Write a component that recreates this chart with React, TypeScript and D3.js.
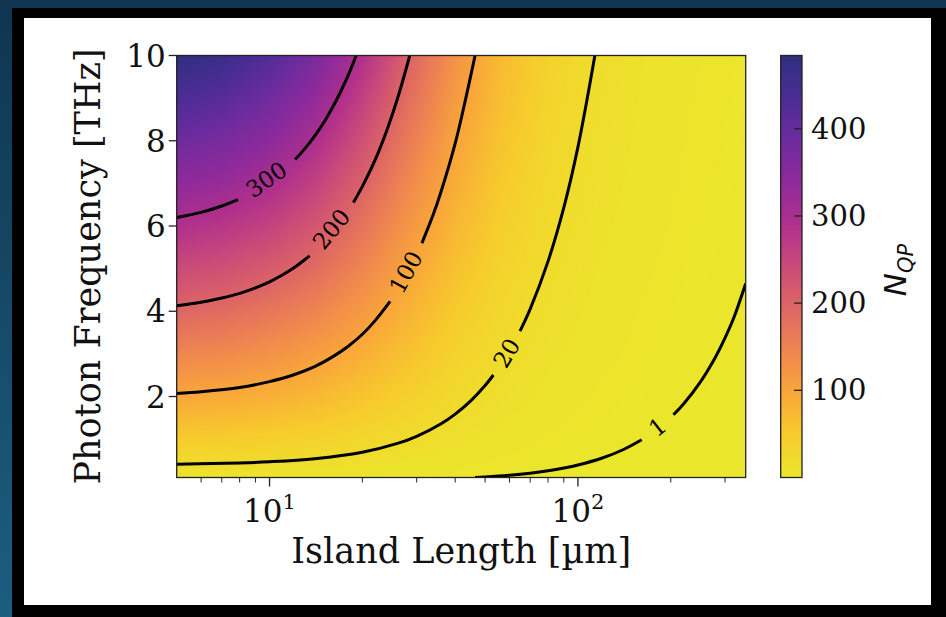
import React, { useMemo } from "react";
import * as d3 from "d3";

// ---------- data ----------
const lengthsUm = [5, 7, 10, 14, 20, 28, 40, 56, 80, 113, 160, 226, 350];
const freqsTHz = [0.1, 2, 4, 6, 8, 10];
const nqpAtF01 = [4.8, 4.6, 4.3, 3.7, 2.9, 2.0, 1.3, 0.73, 0.39, 0.2, 0.1, 0.05, 0.02];
const nqpAtF2 = [97, 93, 85, 74, 58, 41, 25, 14.6, 7.7, 4.0, 2.1, 1.0, 0.44];
const nqpAtF4 = [194, 186, 170, 148, 116, 82, 50, 29, 15.5, 8.1, 4.1, 2.1, 0.87];
const nqpAtF6 = [290, 278, 256, 222, 173, 122, 76, 44, 23, 12.1, 6.2, 3.1, 1.3];
const nqpAtF8 = [387, 371, 341, 296, 231, 163, 101, 59, 31, 16.2, 8.2, 4.2, 1.74];
const nqpAtF10 = [484, 464, 426, 370, 289, 204, 126, 73, 39, 20, 10.3, 5.2, 2.2];
const nqpGrid = [nqpAtF01, nqpAtF2, nqpAtF4, nqpAtF6, nqpAtF8, nqpAtF10];

// contour lines [length µm, frequency THz], split at the label gap
const contour300a = [[5, 6.2], [6, 6.32], [7, 6.47], [7.9, 6.62]];
const contour300b = [[12.1, 7.56], [13, 7.81], [14, 8.11], [15, 8.43], [16, 8.78], [17, 9.15], [18, 9.54], [19.1, 10]];
const contour200a = [[5, 4.13], [6, 4.21], [7, 4.31], [8, 4.42], [9, 4.55], [10, 4.69], [11, 4.85], [12, 5.02], [13, 5.21], [13.5, 5.3]];
const contour200b = [[18.7, 6.55], [20, 6.93], [22, 7.55], [24, 8.24], [26, 8.99], [28.5, 10]];
const contour100a = [[5, 2.07], [6, 2.11], [8, 2.21], [10, 2.35], [12, 2.51], [14, 2.7], [16, 2.93], [18, 3.18], [20, 3.46], [22, 3.78], [24.6, 4.23]];
const contour100b = [[31.2, 5.6], [34, 6.28], [36, 6.81], [40, 7.94], [43, 8.9], [46.4, 10]];
const contour20a = [[5, 0.413], [8, 0.442], [10, 0.469], [14, 0.541], [20, 0.693], [26, 0.899], [30, 1.066], [36, 1.361], [40, 1.588], [45, 1.905], [50, 2.259], [53.2, 2.505]];
const contour20b = [[64.9, 3.535], [70, 4.05], [80, 5.17], [90, 6.43], [100, 7.85], [113.5, 10]];
const contour1a = [[46.4, 0.1], [50, 0.113], [60, 0.154], [70, 0.202], [80, 0.258], [90, 0.322], [100, 0.393], [120, 0.557], [140, 0.751], [161, 0.986]];
const contour1b = [[204, 1.571], [220, 1.824], [250, 2.35], [280, 2.94], [300, 3.375], [320, 3.84], [350, 4.65]];
const contourLevels = [300, 200, 100, 20, 1];

const xMajorTicks = [10, 100];
const xMinorTicks = [6, 7, 8, 9, 20, 30, 40, 50, 60, 70, 80, 90, 200, 300];
const yTicks = [2, 4, 6, 8, 10];
const cbarTicks = [100, 200, 300, 400];
const cbarMin = 0;
const cbarMax = 484;

// colour ramp (plasma, reversed, as it appears in the reference)
const rampColors = ["#ebe72c", "#f7cc2c", "#f9a73a", "#ef8650", "#de6764", "#ca4b79", "#b0308d", "#8e2a9b", "#6d2b9e", "#4c2c94", "#2d2f80"];

// ---------- layout ----------
const W = 946;
const H = 617;
const PL = 176.7, PR = 745.7, PT = 55.5, PB = 477.5;
const CBL = 780.7, CBR = 802;
const SERIF = "'DejaVu Serif', serif";
const SANS = "'DejaVu Sans', sans-serif";

const xScale = d3.scaleLog().domain([5, 350]).range([PL, PR]);
const yScale = d3.scaleLinear().domain([0.1, 10]).range([PB, PT]);
const cScale = d3.scaleLinear().domain([cbarMin, cbarMax]).range([PB, PT]);
const ramp = d3.piecewise(d3.interpolateRgb, rampColors);
const colorOf = (v: number) => ramp(Math.max(0, Math.min(1, (v - cbarMin) / (cbarMax - cbarMin))));

function sampleGrid(L: number, f: number): number {
  const logs = lengthsUm.map((d) => Math.log10(d));
  const lx = Math.log10(L);
  let i = d3.bisectRight(logs, lx) - 1;
  i = Math.max(0, Math.min(logs.length - 2, i));
  let j = d3.bisectRight(freqsTHz, f) - 1;
  j = Math.max(0, Math.min(freqsTHz.length - 2, j));
  const tx = Math.max(0, Math.min(1, (lx - logs[i]) / (logs[i + 1] - logs[i])));
  const ty = Math.max(0, Math.min(1, (f - freqsTHz[j]) / (freqsTHz[j + 1] - freqsTHz[j])));
  const a = nqpGrid[j][i], b = nqpGrid[j][i + 1];
  const c = nqpGrid[j + 1][i], d = nqpGrid[j + 1][i + 1];
  return (a * (1 - tx) + b * tx) * (1 - ty) + (c * (1 - tx) + d * tx) * ty;
}

function useHeatmapUrl(): string {
  return useMemo(() => {
    const w = Math.round(PR - PL);
    const h = Math.round(PB - PT);
    const canvas = document.createElement("canvas");
    canvas.width = w;
    canvas.height = h;
    const ctx = canvas.getContext("2d");
    if (!ctx) return "";
    const img = ctx.createImageData(w, h);
    for (let py = 0; py < h; py++) {
      const f = yScale.invert(PT + ((py + 0.5) / h) * (PB - PT));
      for (let px = 0; px < w; px++) {
        const L = xScale.invert(PL + ((px + 0.5) / w) * (PR - PL));
        const col = d3.rgb(colorOf(sampleGrid(L, f)));
        const k = (py * w + px) * 4;
        img.data[k] = col.r;
        img.data[k + 1] = col.g;
        img.data[k + 2] = col.b;
        img.data[k + 3] = 255;
      }
    }
    ctx.putImageData(img, 0, 0);
    return canvas.toDataURL();
  }, []);
}

const lineGen = d3
  .line<number[]>()
  .x((d) => xScale(d[0]))
  .y((d) => yScale(d[1]))
  .curve(d3.curveCatmullRom.alpha(0.5));

const contourParts: Record<number, number[][][]> = {
  300: [contour300a, contour300b],
  200: [contour200a, contour200b],
  100: [contour100a, contour100b],
  20: [contour20a, contour20b],
  1: [contour1a, contour1b],
};

export default function App() {
  const url = useHeatmapUrl();
  const gradStops = d3.range(0, 1.0001, 0.025);

  return (
    <div>
      <style>{`body{margin:0;}`}</style>
      <svg width={W} height={H} style={{ display: "block" }}>
        <defs>
          <linearGradient id="bg" x1="0" y1="0" x2="0" y2="1">
            <stop offset="0" stopColor="#0f3550" />
            <stop offset="1" stopColor="#1c5e80" />
          </linearGradient>
          <linearGradient id="cbar" x1="0" y1="1" x2="0" y2="0">
            {gradStops.map((t) => (
              <stop key={t} offset={t} stopColor={colorOf(cbarMin + t * (cbarMax - cbarMin))} />
            ))}
          </linearGradient>
          <clipPath id="plotClip">
            <rect x={PL} y={PT} width={PR - PL} height={PB - PT} />
          </clipPath>
        </defs>

        <rect x={0} y={0} width={W} height={H} fill="url(#bg)" />
        <rect x={12} y={8} width={W - 12} height={H - 8} fill="#000" />
        <rect x={24} y={18} width={907} height={587} fill="#fff" />

        {/* heatmap */}
        <image href={url} x={PL} y={PT} width={PR - PL} height={PB - PT} preserveAspectRatio="none" />

        {/* contours */}
        <g clipPath="url(#plotClip)">
          {contourLevels.map((lv) =>
            contourParts[lv].map((seg, i) => (
              <path key={lv + "-" + i} d={lineGen(seg) || ""} fill="none" stroke="#000" strokeWidth={3} strokeLinecap="butt" />
            ))
          )}
        </g>
        {contourLevels.map((lv) => {
          const [a, b] = contourParts[lv];
          const p0 = a[a.length - 1];
          const p1 = b[0];
          const x0 = xScale(p0[0]), y0 = yScale(p0[1]);
          const x1 = xScale(p1[0]), y1 = yScale(p1[1]);
          let ang = (Math.atan2(y1 - y0, x1 - x0) * 180) / Math.PI;
          if (ang > 90) ang -= 180;
          if (ang < -90) ang += 180;
          return (
            <text
              key={"lbl" + lv}
              transform={`translate(${(x0 + x1) / 2},${(y0 + y1) / 2}) rotate(${ang})`}
              textAnchor="middle"
              dominantBaseline="central"
              fontFamily={SERIF}
              fontSize={23}
              fill="#000"
            >
              {lv}
            </text>
          );
        })}

        {/* frame */}
        <rect x={PL} y={PT} width={PR - PL} height={PB - PT} fill="none" stroke="#222" strokeWidth={1.3} />

        {/* y ticks */}
        {yTicks.map((t) => (
          <g key={"y" + t}>
            <line x1={PL - 8} x2={PL} y1={yScale(t)} y2={yScale(t)} stroke="#222" strokeWidth={1.3} />
            <text x={PL - 11} y={yScale(t)} textAnchor="end" dominantBaseline="central" fontFamily={SERIF} fontSize={31} fill="#111">
              {t}
            </text>
          </g>
        ))}

        {/* x ticks */}
        {xMinorTicks.map((t) => (
          <line key={"xm" + t} x1={xScale(t)} x2={xScale(t)} y1={PB} y2={PB + 5} stroke="#222" strokeWidth={1} />
        ))}
        {xMajorTicks.map((t) => (
          <g key={"xM" + t}>
            <line x1={xScale(t)} x2={xScale(t)} y1={PB} y2={PB + 9} stroke="#222" strokeWidth={1.3} />
            <text x={xScale(t)} y={522} textAnchor="middle" fontFamily={SERIF} fontSize={31} fill="#111">
              10
              <tspan dy={-13} fontSize={21}>
                {Math.round(Math.log10(t))}
              </tspan>
            </text>
          </g>
        ))}

        {/* axis labels */}
        <text x={(PL + PR) / 2} y={563} textAnchor="middle" fontFamily={SERIF} fontSize={35} fill="#111">
          Island Length [µm]
        </text>
        <text
          transform={`translate(100,${(PT + PB) / 2}) rotate(-90)`}
          textAnchor="middle"
          fontFamily={SERIF}
          fontSize={35}
          fill="#111"
        >
          Photon Frequency [THz]
        </text>

        {/* colorbar */}
        <rect x={CBL} y={PT} width={CBR - CBL} height={PB - PT} fill="url(#cbar)" stroke="#222" strokeWidth={1.3} />
        {cbarTicks.map((t) => (
          <g key={"c" + t}>
            <line x1={CBR - 8} x2={CBR} y1={cScale(t)} y2={cScale(t)} stroke="#222" strokeWidth={1.3} />
            <text x={811} y={cScale(t)} dominantBaseline="central" fontFamily={SERIF} fontSize={29} fill="#111">
              {t}
            </text>
          </g>
        ))}
        <text
          transform={`translate(906,270) rotate(-90)`}
          textAnchor="middle"
          fontFamily={SANS}
          fontStyle="italic"
          fontSize={31}
          fill="#111"
        >
          N
          <tspan dy={7} fontSize={21}>
            QP
          </tspan>
        </text>
      </svg>
    </div>
  );
}
